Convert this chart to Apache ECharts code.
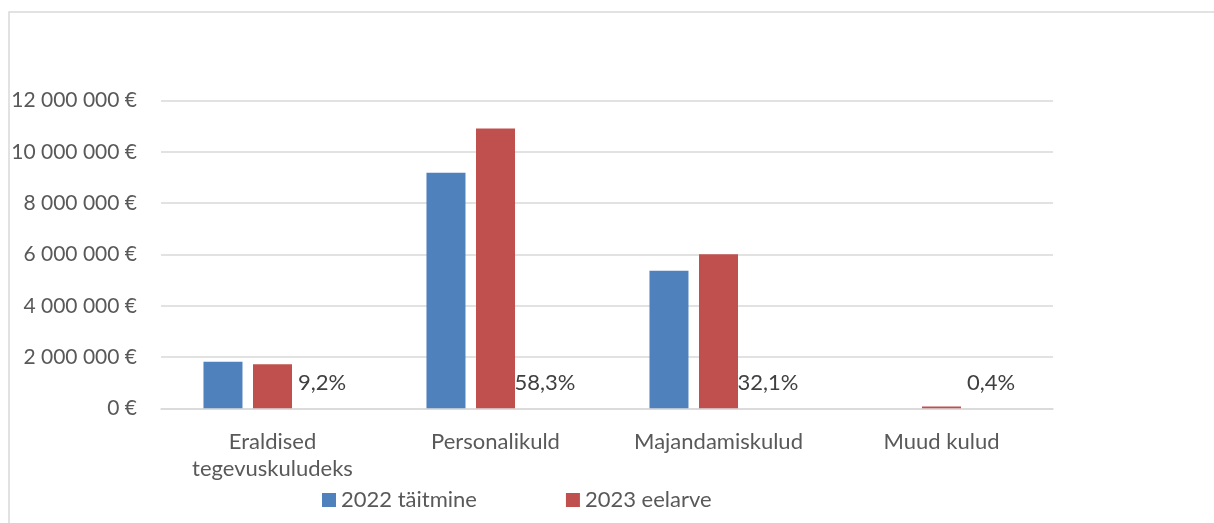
<!DOCTYPE html>
<html>
<head>
<meta charset="utf-8">
<script src="https://cdn.jsdelivr.net/npm/echarts@6/dist/echarts.min.js"></script>
<style>
  html, body { margin: 0; padding: 0; background: #fff; }
  #chart { width: 1214px; height: 523px; }
</style>
</head>
<body>
<div id="chart"></div>
<script>
const categories = ['Eraldised\ntegevuskuludeks', 'Personalikuld', 'Majandamiskulud', 'Muud kulud']
const actual2022 = [1820000, 9190000, 5370000, 0]
const budget2023 = [1720000, 10920000, 6010000, 75000]
const shareLabels = ['9,2%', '58,3%', '32,1%', '0,4%']
const seriesNames = ['2022 täitmine', '2023 eelarve']

const font = 'Lato, "Noto Sans", sans-serif'
const textColor = '#595959'

const fmt = (v) => String(v).replace(/\B(?=(\d{3})+(?!\d))/g, ' ') + ' €'

const chart = echarts.init(document.getElementById('chart'))
chart.setOption({
  animation: false,
  textStyle: { fontFamily: font },
  graphic: [{
    type: 'rect',
    shape: { x: 9, y: 12, width: 1260, height: 560 },
    style: { fill: 'none', stroke: '#d9d9d9', lineWidth: 1.5 },
    silent: true,
  }],
  grid: { left: 161, right: 161, top: 100.7, bottom: 114.7 },
  legend: {
    data: seriesNames,
    left: 317,
    top: 484,
    itemWidth: 14,
    itemHeight: 14,
    itemGap: 89,
    icon: 'rect',
    textStyle: { color: textColor, fontSize: 22, fontFamily: font },
  },
  xAxis: {
    type: 'category',
    data: categories,
    axisTick: { show: false },
    axisLine: { lineStyle: { color: '#d9d9d9', width: 1.5 } },
    axisLabel: { color: textColor, fontSize: 22, margin: 20, lineHeight: 27, interval: 0 },
  },
  yAxis: {
    type: 'value',
    min: 0,
    max: 12000000,
    interval: 2000000,
    axisLabel: { color: textColor, fontSize: 21, margin: 24, formatter: fmt },
    splitLine: { lineStyle: { color: '#d9d9d9', width: 1.5 } },
  },
  series: [
    {
      name: seriesNames[0],
      type: 'bar',
      data: actual2022,
      barWidth: 39,
      barGap: '27%',
      itemStyle: { color: '#4F81BD' },
    },
    {
      name: seriesNames[1],
      type: 'bar',
      data: budget2023,
      barWidth: 39,
      barGap: '27%',
      itemStyle: { color: '#C0504D' },
    },
    {
      // share of the 2023 budget, shown as labels in an empty third slot
      name: 'osakaal',
      type: 'bar',
      data: budget2023.map(() => 0),
      barWidth: 39,
      barGap: '27%',
      itemStyle: { color: 'transparent' },
      label: {
        show: true,
        position: 'top',
        distance: 14,
        color: '#404040',
        fontSize: 22,
        fontFamily: font,
        formatter: (p) => shareLabels[p.dataIndex],
      },
    },
  ],
})
</script>
</body>
</html>
